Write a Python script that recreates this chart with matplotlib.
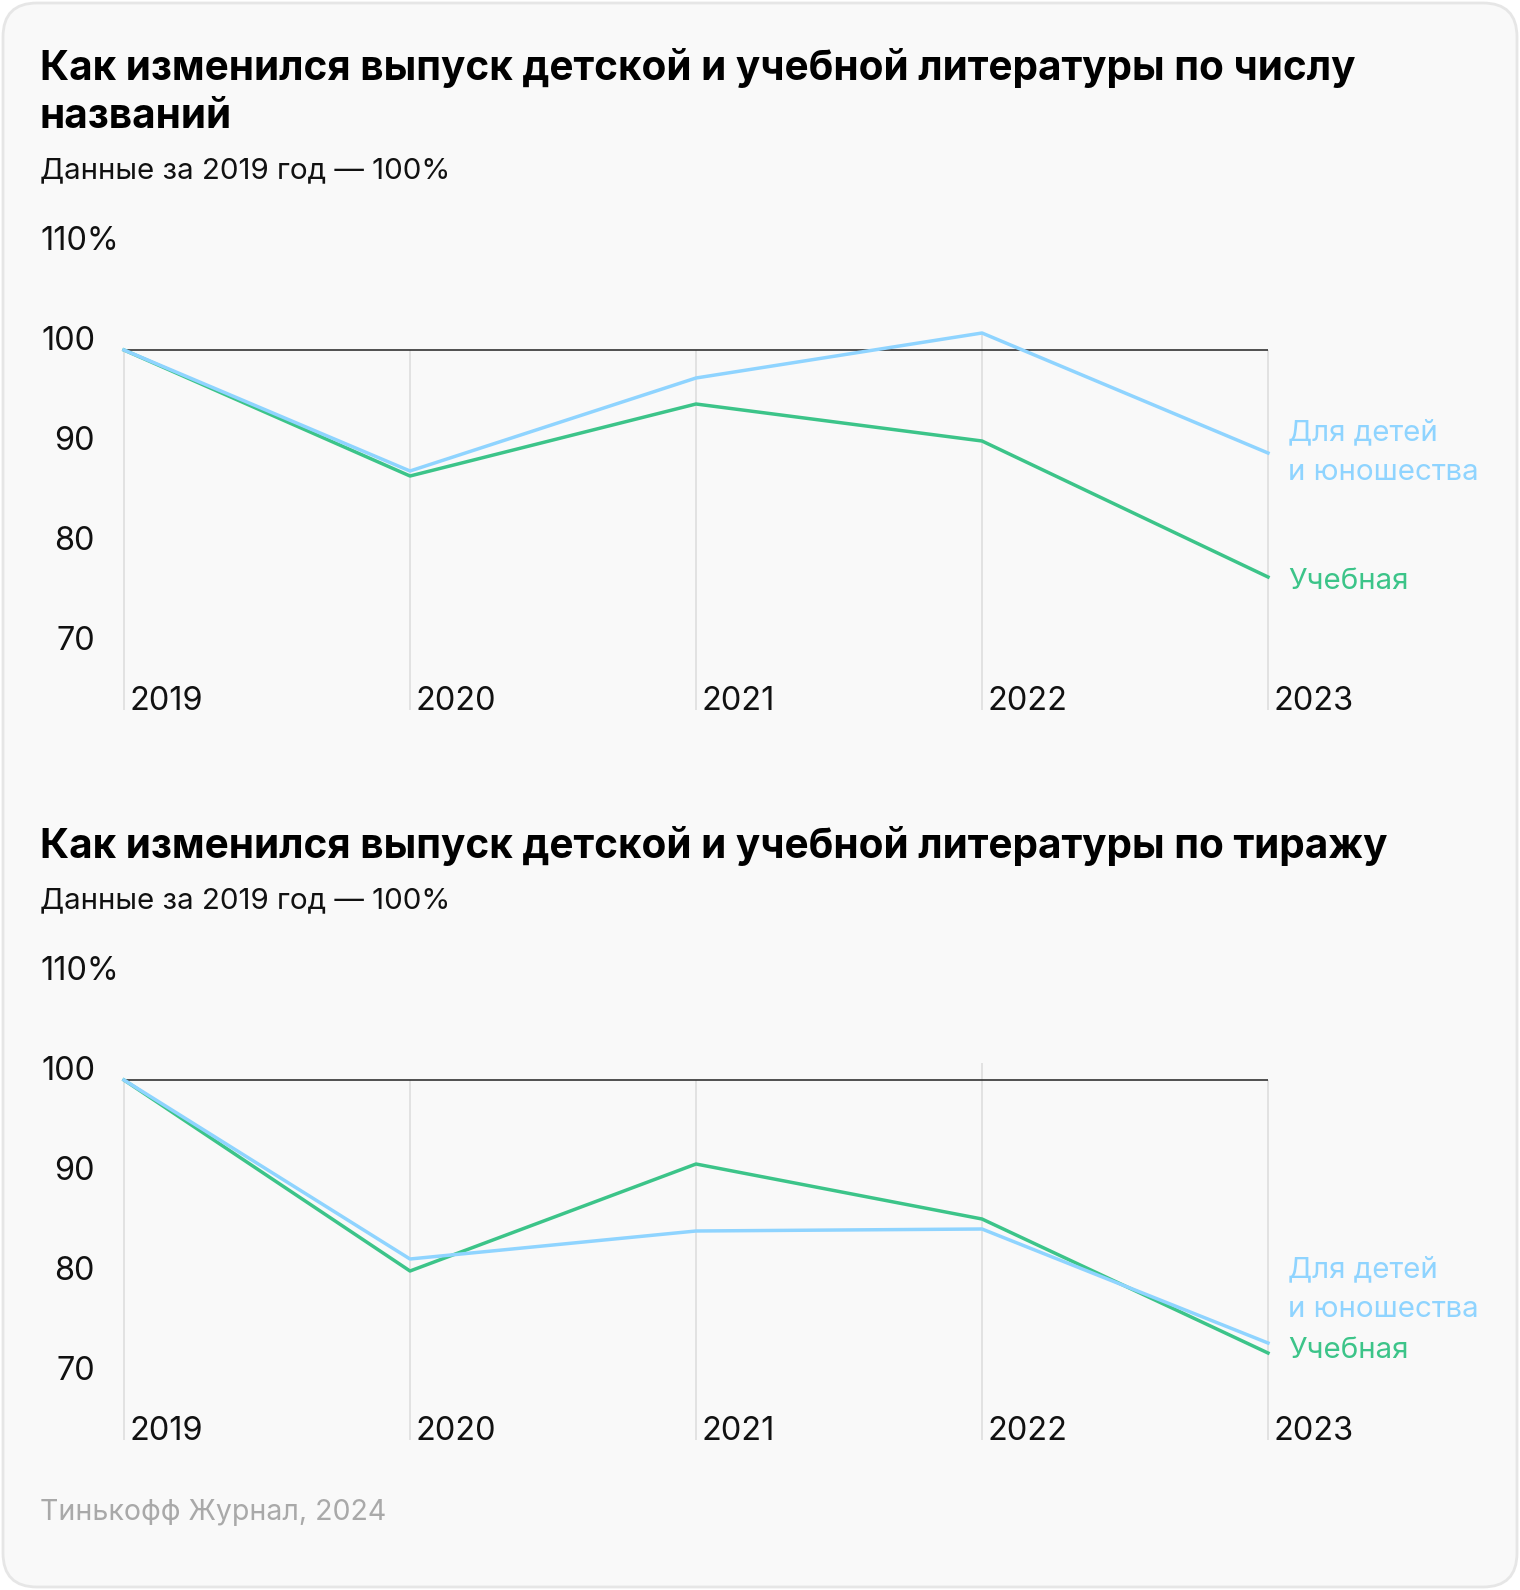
import matplotlib
matplotlib.use("Agg")
import matplotlib.pyplot as plt
from matplotlib.patches import FancyBboxPatch
from matplotlib.transforms import IdentityTransform

plt.rcParams['font.family'] = ['Inter', 'DejaVu Sans']

# ---------------- data ----------------
years = [2019, 2020, 2021, 2022, 2023]
year_labels = ['2019', '2020', '2021', '2022', '2023']
y_ticks = [70, 80, 90, 100, 110]
y_tick_labels = ['70', '80', '90', '100', '110%']

titles_children = [100, 87.9, 97.2, 101.7, 89.7]   # Для детей и юношества, число названий
titles_edu = [100, 87.4, 94.6, 90.9, 77.3]         # Учебная, число названий
print_children = [100, 82.1, 84.9, 85.1, 73.7]     # Для детей и юношества, тираж
print_edu = [100, 80.9, 91.6, 86.1, 72.7]          # Учебная, тираж

title1 = 'Как изменился выпуск детской и учебной литературы по числу\nназваний'
title2 = 'Как изменился выпуск детской и учебной литературы по тиражу'
subtitle = 'Данные за 2019 год — 100%'
label_children = 'Для детей\nи юношества'
label_edu = 'Учебная'
source = 'Тинькофф Журнал, 2024'

BLUE = '#8fd4ff'
GREEN = '#3cc489'

W, H = 1520, 1590
fig = plt.figure(figsize=(W / 100, H / 100), dpi=100)
fig.patch.set_facecolor('#ffffff')

card = FancyBboxPatch((3, 3), W - 6, H - 6,
                      boxstyle="round,pad=0,rounding_size=34",
                      transform=IdentityTransform(),
                      facecolor='#f9f9f9', edgecolor='#e6e6e6', linewidth=2,
                      zorder=-10)
fig.patches.append(card)

PX = 0.72  # px -> pt
TICK_FS = 32.5 * PX
LAB_FS = 29.5 * PX


def ftext(x, y, s, **kw):
    fig.text(x / W, 1 - y / H, s, **kw)


def make_panel(top_px, child, edu, child_label_y, edu_label_y, grid_tops):
    # axis: x 2019..2023 -> px 124..1268 ; y value v -> px top_px + (100-v)*10
    x0, x1 = 124, 1268
    vmin, vmax = 64, 110
    ybot = top_px + (100 - vmin) * 10
    ytop = top_px + (100 - vmax) * 10
    ax = fig.add_axes([x0 / W, 1 - ybot / H, (x1 - x0) / W, (ybot - ytop) / H])
    ax.set_xlim(years[0], years[-1])
    ax.set_ylim(vmin, vmax)
    ax.axis('off')
    ax.set_zorder(5)

    # vertical grid lines
    for yr, gt in zip(years, grid_tops):
        ax.plot([yr, yr], [vmin, gt], color='#e0e0e0', lw=1.3, zorder=1,
                clip_on=False, solid_capstyle='butt')
    # 100 baseline
    ax.plot([years[0], years[-1]], [100, 100], color='#333333', lw=1.2,
            zorder=2, clip_on=False, solid_capstyle='butt')

    ax.plot(years, child, color=BLUE, lw=2.5, zorder=4, clip_on=False)
    ax.plot(years, edu, color=GREEN, lw=2.5, zorder=3, clip_on=False)

    # y tick labels (glyphs sit on the value line)
    for v, lab in zip(y_ticks, y_tick_labels):
        if lab.endswith('%'):
            ax.annotate(lab, xy=(years[0], v), xytext=(-84 * PX, 0),
                        textcoords='offset points', ha='left', va='baseline',
                        fontsize=TICK_FS, color='#111111', annotation_clip=False)
        else:
            ax.annotate(lab, xy=(years[0], v), xytext=(-29 * PX, 0),
                        textcoords='offset points', ha='right', va='baseline',
                        fontsize=TICK_FS, color='#111111', annotation_clip=False)
    # x labels
    for yr, lab in zip(years, year_labels):
        ax.annotate(lab, xy=(yr, vmin), xytext=(6 * PX, 0),
                    textcoords='offset points', ha='left', va='baseline',
                    fontsize=TICK_FS, color='#111111', annotation_clip=False)
    # series labels
    ax.annotate(label_children, xy=(years[-1], child_label_y),
                xytext=(20 * PX, 0), textcoords='offset points',
                ha='left', va='center', fontsize=LAB_FS, color=BLUE,
                linespacing=1.6, annotation_clip=False)
    ax.annotate(label_edu, xy=(years[-1], edu_label_y),
                xytext=(20 * PX, 0), textcoords='offset points',
                ha='left', va='center', fontsize=LAB_FS, color=GREEN,
                annotation_clip=False)
    return ax


# ---- titles ----
ftext(40, 92, title1, fontsize=40.5 * PX, fontweight='bold', color='#000000',
      va='center', linespacing=1.36)
ftext(40, 171, subtitle, fontsize=29.5 * PX, color='#111111', va='center')
ftext(40, 846, title2, fontsize=40.5 * PX, fontweight='bold', color='#000000',
      va='center')
ftext(40, 901, subtitle, fontsize=29.5 * PX, color='#111111', va='center')
ftext(40, 1513, source, fontsize=28.5 * PX, color='#a9a9a9', va='center')

# label positions (layout): top at line ends, bottom nudged apart
make_panel(350, titles_children, titles_edu,
           titles_children[-1], titles_edu[-1] - 0.4,
           [100, 100, 100, max(titles_children[3], 100), 100])
make_panel(1080, print_children, print_edu,
           print_edu[-1] + 6.3, print_edu[-1] + 0.2,
           [100, 100, 100, 101.7, 100])

fig.savefig('out.png', dpi=100, facecolor=fig.get_facecolor())
